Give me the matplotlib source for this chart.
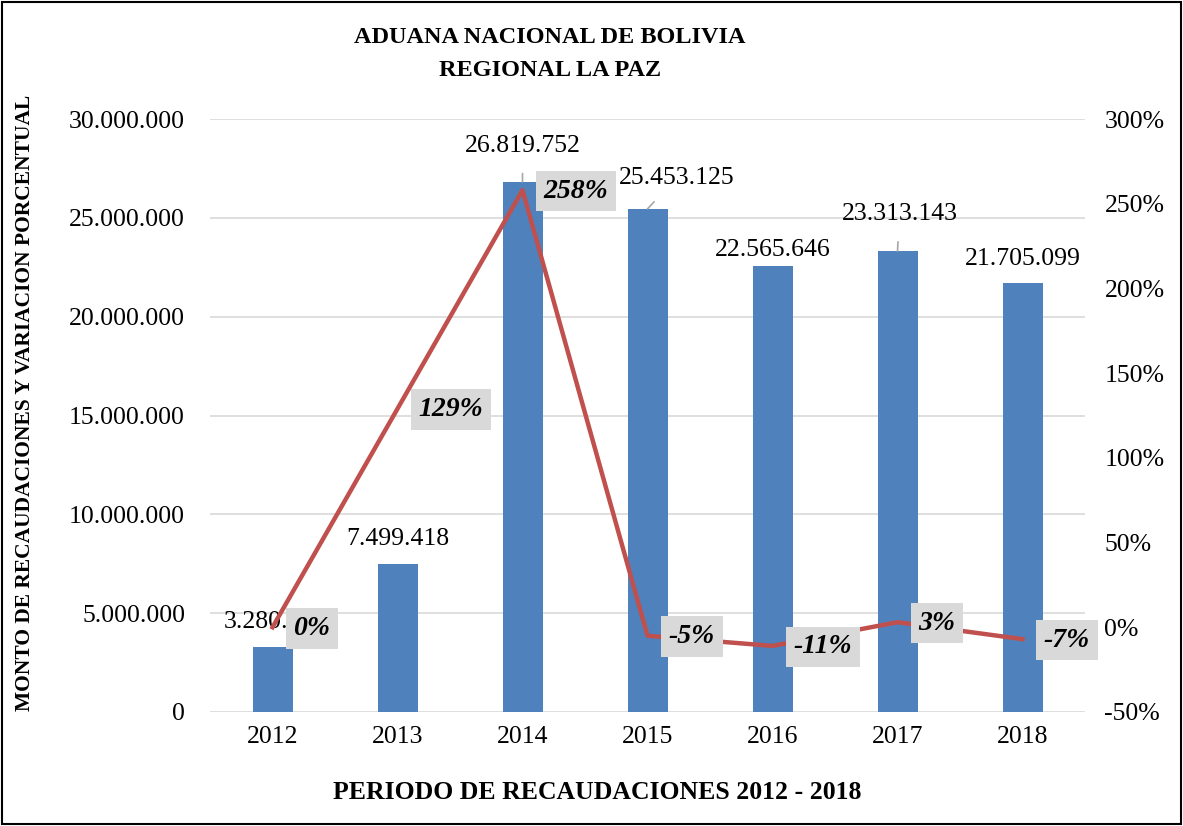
import matplotlib.pyplot as plt
from matplotlib.patches import Rectangle

years = ['2012', '2013', '2014', '2015', '2016', '2017', '2018']
recaudacion = [3280846, 7499418, 26819752, 25453125, 22565646, 23313143, 21705099]
variacion = [0.00, 1.29, 2.58, -0.05, -0.11, 0.03, -0.07]
var_labels = ['0%', '129%', '258%', '-5%', '-11%', '3%', '-7%']

# label offsets in pixels (style only)
bar_off = [(3, 25), (0, 25), (0, 36), (29, 31), (0, 16), (2, 37), (0, 24)]
bar_leader = [False, False, True, True, False, True, False]

SERIF = 'Liberation Serif'
plt.rcParams['font.family'] = SERIF

def fmt(v):
    return f'{v:,.0f}'.replace(',', '.')

fig = plt.figure(figsize=(11.83, 8.26), dpi=100)
ax = fig.add_axes([210/1183, 114/826, 875/1183, 593/826])
ax2 = ax.twinx()

x = list(range(len(years)))
ax.bar(x, recaudacion, width=0.32, color='#4F81BD', zorder=2)
ax.set_ylim(0, 30000000)
ax.set_xlim(-0.5, len(years) - 0.5)
ax.set_yticks(range(0, 30000001, 5000000))
ax.set_yticklabels([fmt(v) for v in range(0, 30000001, 5000000)], fontsize=18.5)
ax.set_xticks(x)
ax.set_xticklabels(years, fontsize=18.5)
ax.grid(axis='y', color='#d9d9d9', linewidth=1.2, zorder=0)
ax.set_axisbelow(True)
ax.tick_params(axis='y', length=0, pad=18)
ax.tick_params(axis='x', length=0, pad=10)
for s in ax.spines.values():
    s.set_visible(False)
for s in ax2.spines.values():
    s.set_visible(False)

for i, v in enumerate(recaudacion):
    dx, dy = bar_off[i]
    ap = dict(arrowstyle='-', color='#a6a6a6', lw=1.2, shrinkA=10, shrinkB=0) if bar_leader[i] else None
    ax.annotate(fmt(v), (i, v), xytext=(dx, dy), textcoords='offset pixels',
                ha='center', va='center', fontsize=18.5, arrowprops=ap, zorder=3)

ax2.plot(x, variacion, color='#C0504D', linewidth=3.2, zorder=4)
ax2.set_ylim(-0.5, 3.0)
ax2.set_yticks([-0.5, 0, 0.5, 1.0, 1.5, 2.0, 2.5, 3.0])
ax2.set_yticklabels(['-50%', '0%', '50%', '100%', '150%', '200%', '250%', '300%'], fontsize=18.5)
ax2.tick_params(length=0, pad=14)

for i, v in enumerate(variacion):
    ax2.annotate(var_labels[i], (i, v), xytext=(21, -1), textcoords='offset pixels',
                 ha='left', va='center', fontsize=20, fontweight='bold', fontstyle='italic',
                 bbox=dict(boxstyle='square,pad=0.28', fc='#d9d9d9', ec='none'), zorder=5)

fig.text(0.465, 0.955, 'ADUANA NACIONAL DE BOLIVIA', ha='center', va='center',
         fontsize=17.5, fontweight='bold')
fig.text(0.465, 0.915, 'REGIONAL LA PAZ', ha='center', va='center',
         fontsize=17.5, fontweight='bold')
fig.text(0.505, 0.041, 'PERIODO DE RECAUDACIONES 2012 - 2018', ha='center', va='center',
         fontsize=18.5, fontweight='bold')
fig.text(0.021, 0.512, 'MONTO DE RECAUDACIONES Y VARIACION PORCENTUAL', ha='center', va='center',
         rotation=90, fontsize=15.5, fontweight='bold')

fig.patches.append(Rectangle((0.002, 0.002), 0.996, 0.996, transform=fig.transFigure,
                             fill=False, ec='black', lw=1.5))

fig.savefig('out.png', dpi=100)
